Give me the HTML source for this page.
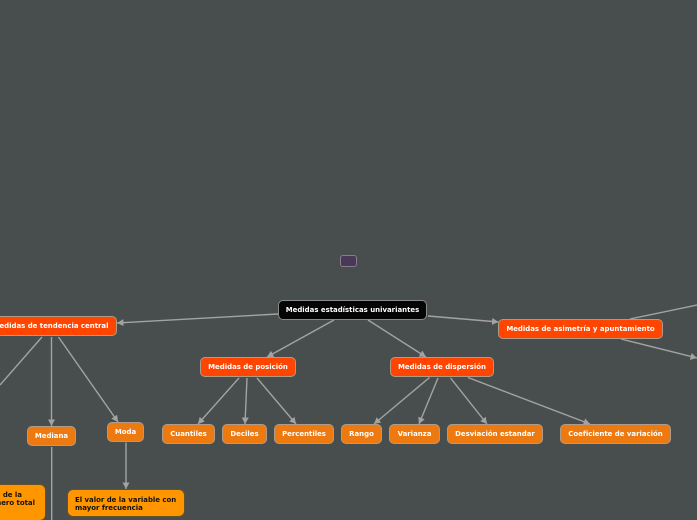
<!DOCTYPE html>
<html lang="es">
<head>
<meta charset="utf-8">
<title>Medidas estadísticas univariantes</title>
<style>
html,body{margin:0;padding:0;background:#484e4e;}
#c{position:relative;width:697px;height:520px;overflow:hidden;background:#484e4e;font-family:"DejaVu Sans",sans-serif;font-weight:bold;font-size:6.95px;}
svg{position:absolute;left:0;top:0;}
.n{position:absolute;box-sizing:border-box;border-radius:5px;border:1px solid #b09a88;color:#fff;display:flex;align-items:center;justify-content:center;white-space:nowrap;line-height:9px;padding-top:1px;}
.r{background:#ff4500;}
.o{background:#ec7a10;}
.y{background:#ff9600;color:#111;border:1px solid #66512a;justify-content:flex-start;border-radius:6px;}
.t{position:absolute;color:#111;white-space:nowrap;line-height:8px;}
</style>
</head>
<body>
<div id="c">
<svg width="697" height="520" viewBox="0 0 697 520">
<defs>
<marker id="a" markerUnits="userSpaceOnUse" markerWidth="8" markerHeight="8" refX="6.500" refY="3.500" orient="auto">
<polygon points="0,0 6.500,3.500 0,7" fill="#a3a3a3"/>
</marker>
</defs>
<g stroke="#a3a3a3" stroke-width="1.4" fill="none">
<line x1="278" y1="314" x2="117" y2="323" marker-end="url(#a)"/>
<line x1="334" y1="320" x2="267" y2="357" marker-end="url(#a)"/>
<line x1="368" y1="320" x2="426" y2="357" marker-end="url(#a)"/>
<line x1="428" y1="316" x2="498.500" y2="322" marker-end="url(#a)"/>
<line x1="630" y1="319" x2="697" y2="305"/>
<line x1="621" y1="339" x2="697" y2="358" marker-end="url(#a)"/>
<line x1="42" y1="337" x2="0" y2="385"/>
<line x1="51.500" y1="337" x2="51.500" y2="426" marker-end="url(#a)"/>
<line x1="58.500" y1="337" x2="118" y2="422" marker-end="url(#a)"/>
<line x1="51.700" y1="447" x2="51.700" y2="520"/>
<line x1="126" y1="442.500" x2="126" y2="489" marker-end="url(#a)"/>
<line x1="239" y1="378" x2="198" y2="424" marker-end="url(#a)"/>
<line x1="247" y1="378" x2="245" y2="424" marker-end="url(#a)"/>
<line x1="257" y1="378" x2="296" y2="424" marker-end="url(#a)"/>
<line x1="429.500" y1="377.500" x2="374" y2="424" marker-end="url(#a)"/>
<line x1="438" y1="378" x2="419" y2="424" marker-end="url(#a)"/>
<line x1="450.500" y1="378" x2="487" y2="424" marker-end="url(#a)"/>
<line x1="468" y1="377.500" x2="590" y2="424" marker-end="url(#a)"/>
</g>
</svg>

<div class="n" style="left:340px;top:255px;width:17px;height:12px;background:#483a56;border-color:#8a7a92;border-radius:3px;"></div>

<div class="n" style="left:278px;top:300px;width:149px;height:20px;background:#050505;border-color:#8a8a8a;">Medidas estadísticas univariantes</div>

<div class="n r" style="left:-30px;top:316px;width:146.500px;height:20px;justify-content:flex-end;padding-right:7px;">Medidas de tendencia central</div>
<div class="n r" style="left:200px;top:357px;width:96px;height:20px;">Medidas de posición</div>
<div class="n r" style="left:390px;top:357px;width:104px;height:20px;">Medidas de dispersión</div>
<div class="n r" style="left:498px;top:319px;width:165px;height:20px;">Medidas de asimetría y apuntamiento</div>

<div class="n o" style="left:162px;top:424px;width:53px;height:20px;">Cuantiles</div>
<div class="n o" style="left:222px;top:424px;width:45px;height:20px;">Deciles</div>
<div class="n o" style="left:274px;top:424px;width:60px;height:20px;">Percentiles</div>
<div class="n o" style="left:341px;top:424px;width:41px;height:20px;">Rango</div>
<div class="n o" style="left:389px;top:424px;width:51px;height:20px;">Varianza</div>
<div class="n o" style="left:447px;top:424px;width:96px;height:20px;">Desviación estandar</div>
<div class="n o" style="left:560px;top:424px;width:111px;height:20px;">Coeficiente de variación</div>
<div class="n o" style="left:27px;top:426px;width:49px;height:20px;">Mediana</div>
<div class="n o" style="left:107px;top:422px;width:37px;height:20px;">Moda</div>

<div class="n y" style="left:67px;top:489px;width:117.500px;height:28px;padding-left:7px;display:block;padding-top:5.500px;line-height:8px;white-space:nowrap;">El valor de la variable con<br>mayor frecuencia</div>

<div class="n y" style="left:-100px;top:484px;width:145.500px;height:37px;"></div>
<div class="t" style="right:675px;top:491px;">de los valores de la</div>
<div class="t" style="right:662px;top:499px;">variable por el número total</div>
</div>
</body>
</html>
